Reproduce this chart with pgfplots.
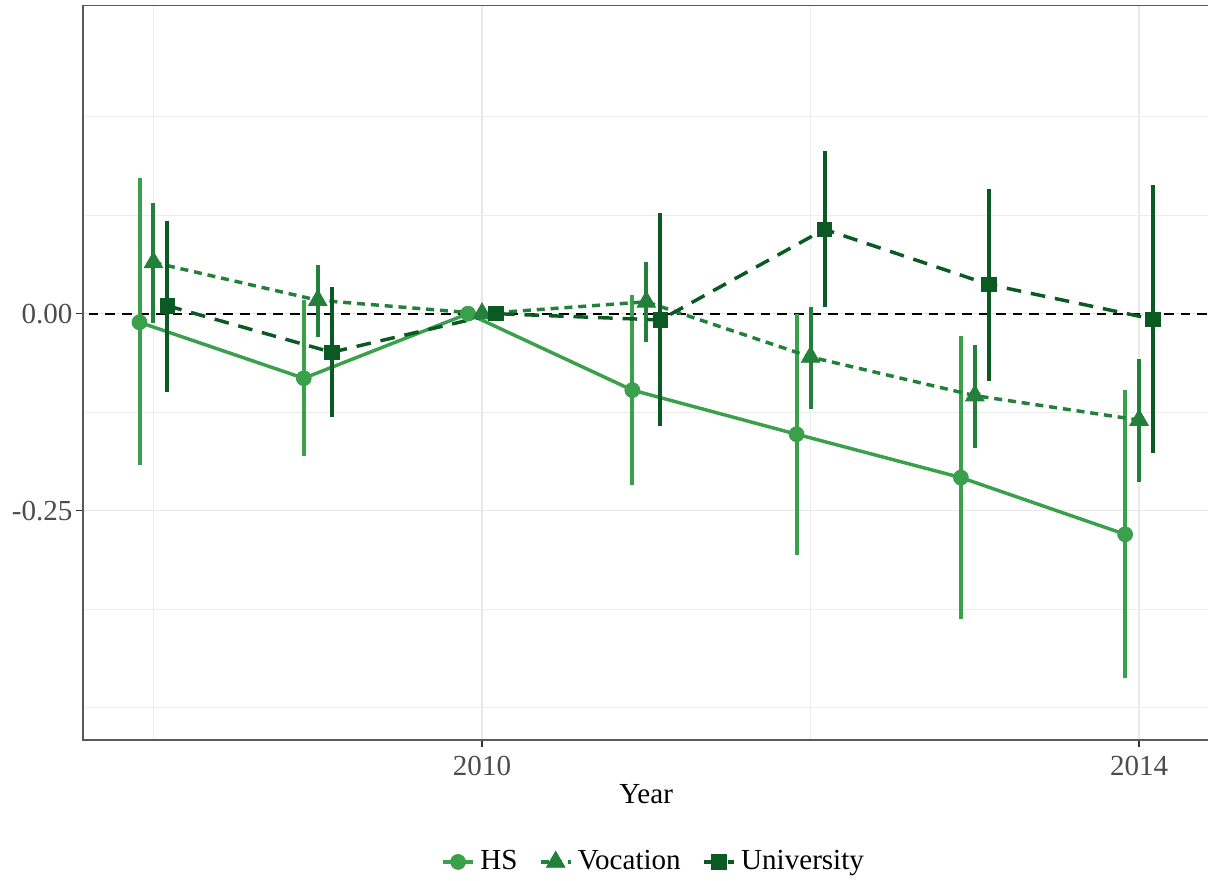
\documentclass[border=0pt]{standalone}
\usepackage{fontspec}
\setmainfont{Liberation Serif}
\usepackage{pgfplots}
\pgfplotsset{compat=1.18}
\usepackage{pgfplotstable}

\definecolor{hscol}{RGB}{59,160,75}
\definecolor{voccol}{RGB}{35,128,58}
\definecolor{unicol}{RGB}{11,90,35}

% estimate, upper and lower half-widths of the confidence intervals
\pgfplotstableread{
x        y       ep     em
2007.915 -0.011  0.183  0.181
2008.915 -0.082  0.099  0.099
2009.915  0.000  0.000  0.000
2010.915 -0.097  0.121  0.121
2011.915 -0.153  0.152  0.153
2012.915 -0.208  0.180  0.180
2013.915 -0.280  0.183  0.182
}\hsdata

\pgfplotstableread{
x        y       ep     em
2008.000  0.065  0.076  0.077
2009.000  0.017  0.045  0.047
2010.000  0.000  0.000  0.000
2011.000  0.015  0.050  0.051
2012.000 -0.055  0.063  0.066
2013.000 -0.104  0.064  0.066
2014.000 -0.135  0.078  0.079
}\vocdata

\pgfplotstableread{
x        y       ep     em
2008.085  0.010  0.107  0.110
2009.085 -0.049  0.083  0.082
2010.085  0.000  0.000  0.000
2011.085 -0.008  0.136  0.135
2012.085  0.107  0.099  0.099
2013.085  0.037  0.121  0.122
2014.085 -0.007  0.170  0.170
}\unidata

\begin{document}
\begin{tikzpicture}[font=\fontsize{10.9}{13}\selectfont]
\begin{axis}[
  name=ax,
  at={(0pt,0pt)}, anchor=south west,
  scale only axis,
  width=422.4pt, height=275.44pt,
  xmin=2007.571, xmax=2014.428,
  ymin=-0.541, ymax=0.391,
  axis line style={black!65, line width=0.5pt},
  tick align=outside,
  tick pos=left,
  xtick={2010,2014}, xticklabels={2010,2014},
  minor xtick={2008,2012},
  ytick={-0.25,0}, yticklabels={-0.25,0.00},
  minor ytick={-0.5,-0.375,-0.125,0.125,0.25},
  major tick length=2.6pt, minor tick length=0pt,
  tick style={black!80, line width=0.5pt},
  ticklabel style={text=black!70},
  yticklabel style={xshift=2.2pt},
  grid=both,
  major grid style={black!9, line width=0.55pt},
  minor grid style={black!7, line width=0.4pt},
  xlabel={Year},
  xlabel style={yshift=3.5pt},
  legend style={at={(0.508,-0.166)}, anchor=center, draw=none, fill=none,
    legend columns=3, /tikz/every even column/.append style={column sep=6pt}},
  legend image code/.code={\draw[mark repeat=2,mark phase=2,#1] plot coordinates {(0cm,0cm)(0.2cm,0cm)(0.4cm,0cm)};},
  clip=true,
]
% reference line at zero
\addplot[black, line width=0.75pt, dash pattern=on 3.7pt off 2.6pt, forget plot]
  coordinates {(2007.4,0) (2014.6,0)};

\addplot[hscol, line width=1.3pt, mark=*, mark size=2.8pt, mark options={solid, line width=0.3pt},
  error bars/.cd, y dir=both, y explicit, error mark=none,
  error bar style={line width=1.5pt, solid}]
  table[x=x, y=y, y error plus=ep, y error minus=em] {\hsdata};
\addlegendentry{HS}

\addplot[voccol, line width=1.3pt, dash pattern=on 3pt off 2.2pt, mark=triangle*, mark size=4pt, mark options={solid, line width=0.3pt},
  error bars/.cd, y dir=both, y explicit, error mark=none,
  error bar style={line width=1.5pt, solid}]
  table[x=x, y=y, y error plus=ep, y error minus=em] {\vocdata};
\addlegendentry{Vocation}

\addplot[unicol, line width=1.3pt, dash pattern=on 5.5pt off 3.7pt, mark=square*, mark size=2.7pt, mark options={solid, line width=0.3pt},
  error bars/.cd, y dir=both, y explicit, error mark=none,
  error bar style={line width=1.5pt, solid}]
  table[x=x, y=y, y error plus=ep, y error minus=em] {\unidata};
\addlegendentry{University}
\end{axis}
\pgfresetboundingbox
\path (-31.125pt,-52.5pt) rectangle (421.875pt,277.5pt);
\end{tikzpicture}
\end{document}
